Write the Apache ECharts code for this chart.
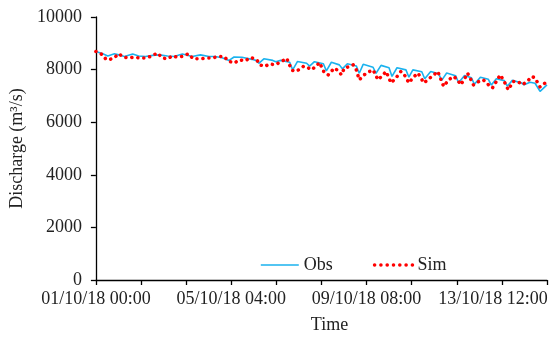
<!DOCTYPE html>
<html>
<head>
<meta charset="utf-8">
<script src="https://cdn.jsdelivr.net/npm/echarts@6/dist/echarts.min.js"></script>
<style>
html,body{margin:0;padding:0;background:#fff;}
#c{width:553px;height:339px;}
</style>
</head>
<body>
<div id="c"></div>
<script>
// Time in hours since 01/10/18 00:00
var xTickLabels = ['01/10/18 00:00', '05/10/18 04:00', '09/10/18 08:00', '13/10/18 12:00'];
var yTicks = [0, 2000, 4000, 6000, 8000, 10000];

var obsT = [0, 5.1, 8.8, 13.7, 16.9, 21.1, 27.2, 31.6, 36.7, 41.9, 46.8, 52.9, 57.8, 63.9, 71.2, 77.3, 83.5, 88.1, 93.2, 98.4, 102.1, 107.9, 115.3,
  118.2, 120.4, 124.1, 130.7, 132.9, 136.6, 143.2, 145.4, 149.0, 155.7, 157.9, 161.5, 168.1, 170.3, 174.0, 179.9, 182.1, 185.8,
  192.4, 194.6, 197.5, 204.8, 207.0, 210.7, 216.6, 218.8, 222.5, 229.1, 231.3, 234.2, 240.8, 243.0, 247.4, 253.3, 255.5, 259.2,
  265.8, 268.0, 272.4, 277.5, 279.7, 284.1, 290.0, 292.2, 295.9, 301.8, 304.0, 307.7, 314.2, 316.4, 320.8, 324.5, 328.2, 333.3];
var obsV = [8690, 8600, 8520, 8600, 8560, 8500, 8590, 8520, 8500, 8540, 8560, 8520, 8500, 8590, 8500, 8560, 8500, 8500, 8450, 8350, 8480, 8470, 8390,
  8350, 8240, 8410, 8350, 8300, 8350, 8280, 7990, 8310, 8240, 8130, 8300, 8220, 7950, 8280, 8180, 8030, 8220,
  8140, 7860, 8200, 8090, 7860, 8160, 8070, 7740, 8070, 7990, 7710, 7990, 7920, 7650, 7930, 7840, 7590, 7870,
  7770, 7500, 7780, 7690, 7440, 7710, 7630, 7410, 7650, 7580, 7370, 7590, 7500, 7420, 7520, 7480, 7170, 7420];

var simT = [0, 5.1, 7.3, 9.5, 13.2, 16.9, 20.6, 24.2, 27.9, 33.0, 36.7, 40.4, 45.5, 49.2, 52.9, 56.5, 60.2, 63.9, 68.3, 72.0, 77.1, 82.2, 85.9, 91.0, 94.7, 97.7,
  102.1, 106.5, 110.1, 114.5, 118.9, 121.2, 124.8, 128.5, 132.2, 137.3, 141.0, 144.6, 146.8, 149.8, 153.5, 157.1, 159.3, 163.0, 165.2,
  168.9, 171.8, 174.0, 176.2, 179.2, 181.4, 183.6, 187.2, 190.2, 192.4, 194.6, 198.2, 201.9, 204.8, 208.5, 212.2, 214.4, 218.1, 221.7,
  225.4, 228.3, 231.3, 234.2, 237.9, 240.1, 242.3, 246.0, 249.6, 252.6, 257.0, 260.6, 264.3, 267.3, 269.5, 272.4, 274.6, 276.8, 279.0,
  282.7, 286.3, 289.3, 293.0, 296.6, 298.8, 301.8, 304.7, 308.4, 312.0, 315.0, 318.7, 322.3, 324.5, 328.2, 331.9, 333.3];
var simV = [8690, 8560, 8400, 8370, 8440, 8600, 8470, 8440, 8470, 8440, 8440, 8500, 8630, 8440, 8410, 8520, 8470, 8500, 8600, 8410, 8410, 8440, 8440, 8500, 8500, 8330,
  8250, 8370, 8330, 8460, 8370, 8180, 8120, 8220, 8180, 8310, 8430, 7990, 7930, 7990, 8130, 8060, 7990, 8140, 8270,
  7870, 7800, 7930, 8060, 7950, 7800, 8060, 8110, 8180, 7990, 7610, 7800, 7920, 7990, 7610, 7800, 7930, 7490, 7680,
  7930, 7770, 7490, 7690, 7870, 7690, 7490, 7650, 7800, 7930, 7360, 7610, 7740, 7610, 7420, 7650, 7870, 7650, 7420,
  7540, 7610, 7460, 7300, 7610, 7800, 7540, 7230, 7550, 7540, 7420, 7550, 7740, 7680, 7340, 7490, 7590];

function pairs(t, v) { return t.map(function (x, i) { return [x, v[i]]; }); }

var FONT = '"Liberation Serif", "Times New Roman", serif';
var TXT = '#222';
var chart = echarts.init(document.getElementById('c'), null, { renderer: 'canvas' });
chart.setOption({
  animation: false,
  backgroundColor: '#fff',
  grid: { left: 93, right: 6, top: 17, bottom: 58, containLabel: false },
  legend: {
    left: 255, top: 251,
    itemWidth: 38, itemHeight: 14, itemGap: 40,
    itemStyle: { opacity: 0 },
    textStyle: { fontFamily: FONT, fontSize: 18, color: TXT },
    data: [
      { name: 'Obs', lineStyle: { color: '#1ab2ee', width: 1.6 } },
      { name: 'Sim', lineStyle: { color: '#ff0000', width: 3.5, type: [0.1, 6.2], cap: 'round' } }
    ]
  },
  xAxis: {
    type: 'value', min: 0, max: 1000 / 3, interval: 100 / 3,
    name: 'Time', nameLocation: 'middle', nameGap: 36,
    nameTextStyle: { fontFamily: FONT, fontSize: 18, color: TXT, padding: [0, 0, 0, 16] },
    axisLine: { show: true, lineStyle: { color: '#000', width: 1.3 } },
    axisTick: { show: true, length: 5, lineStyle: { color: '#000', width: 1.3 } },
    splitLine: { show: false },
    axisLabel: {
      margin: 10, fontFamily: FONT, fontSize: 18, color: TXT, showMaxLabel: true,
      formatter: function (v) {
        var k = Math.round(v / 100);
        if (Math.abs(v - k * 100) > 0.01 || k >= xTickLabels.length) return '';
        if (k === xTickLabels.length - 1) return '{s|' + xTickLabels[k] + '}';
        return xTickLabels[k];
      },
      rich: { s: { fontFamily: FONT, fontSize: 18, color: TXT, padding: [0, 18, 0, 0] } }
    }
  },
  yAxis: {
    type: 'value', min: yTicks[0], max: yTicks[yTicks.length - 1], interval: yTicks[1] - yTicks[0],
    name: 'Discharge (m³/s)', nameLocation: 'middle', nameGap: 63, nameRotate: 90,
    nameTextStyle: { fontFamily: FONT, fontSize: 18, color: TXT },
    axisLine: { show: true, lineStyle: { color: '#000', width: 1.3 } },
    axisTick: { show: true, length: 5, lineStyle: { color: '#000', width: 1.3 } },
    splitLine: { show: false },
    axisLabel: {
      margin: 14, fontFamily: FONT, fontSize: 18, color: TXT,
      formatter: function (v) { return String(v); }
    }
  },
  series: [
    {
      name: 'Obs', type: 'line', data: pairs(obsT, obsV), showSymbol: false, symbol: 'none',
      color: '#1ab2ee',
      lineStyle: { color: '#1ab2ee', width: 1.6 }
    },
    {
      name: 'Sim', type: 'line', data: pairs(simT, simV), showSymbol: false, symbol: 'none',
      color: '#ff0000',
      lineStyle: { color: '#ff0000', width: 3.5, type: [0.1, 5.9], cap: 'round' }
    }
  ]
});
</script>
</body>
</html>
